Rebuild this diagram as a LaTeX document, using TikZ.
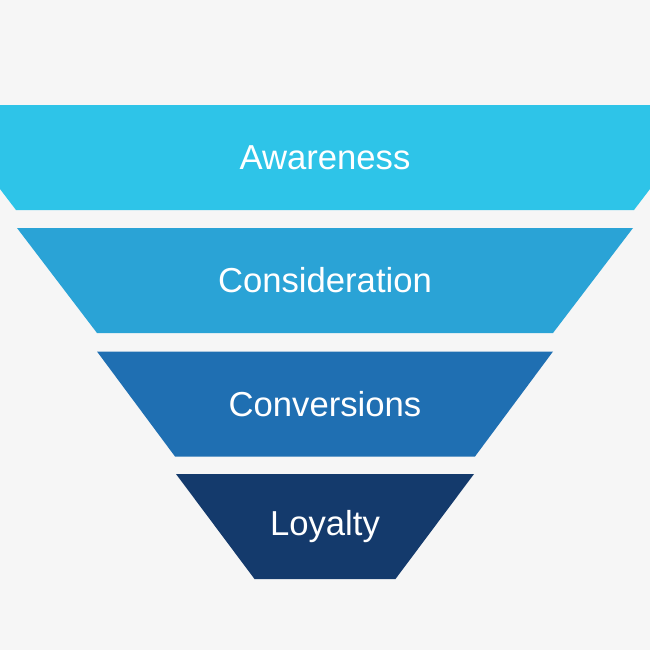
\documentclass[tikz,border=0pt]{standalone}
\usepackage{fontspec}
\setmainfont{Liberation Sans}
\definecolor{bgGray}{RGB}{246,246,246}
\definecolor{awareBlue}{RGB}{46,196,232}
\definecolor{considBlue}{RGB}{42,163,214}
\definecolor{convBlue}{RGB}{31,111,178}
\definecolor{loyalBlue}{RGB}{20,58,108}
\tikzset{every picture/.style={line width=0.75pt}}
\tikzset{stagetext/.style={text=white,font=\fontsize{26}{30}\selectfont}}
\begin{document}
\begin{tikzpicture}[x=0.75pt,y=0.75pt,yscale=-1,xscale=1]
	%background, sets the picture size
	\fill [bgGray] (0,0) rectangle (650,650);
	\clip (0,0) rectangle (650,650);

	%Shape: Trapezoid [id:awareness]
	\fill [awareBlue] (-64,105) -- (714,105) -- (634,210) -- (16,210) -- cycle ;
	%Shape: Trapezoid [id:consideration]
	\fill [considBlue] (17,228) -- (633,228) -- (553,333) -- (97,333) -- cycle ;
	%Shape: Trapezoid [id:conversions]
	\fill [convBlue] (97,351.5) -- (553,351.5) -- (475,456.5) -- (175,456.5) -- cycle ;
	%Shape: Trapezoid [id:loyalty]
	\fill [loyalBlue] (176,474) -- (474,474) -- (395.5,579) -- (254.5,579) -- cycle ;

	% Text Node
	\node [stagetext] (aware) at (325,157.5) {Awareness};
	% Text Node
	\node [stagetext] (consid) at (325,280.5) {Consideration};
	% Text Node
	\node [stagetext] (conv) at (325,404) {Conversions};
	% Text Node
	\node [stagetext] (loyal) at (325,526.5) {Loyalty};

\end{tikzpicture}
\end{document}
